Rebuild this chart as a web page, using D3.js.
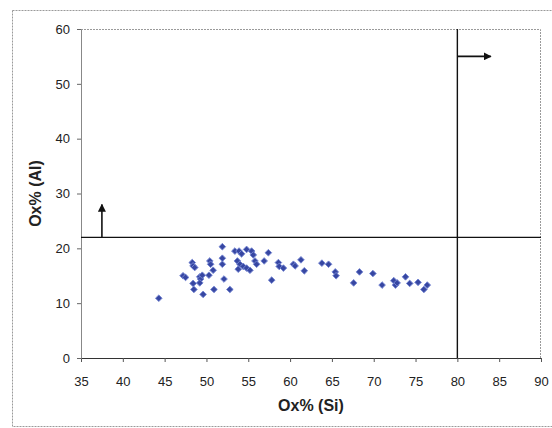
<!DOCTYPE html>
<html>
<head>
<meta charset="utf-8">
<script src="https://cdn.jsdelivr.net/npm/d3@7"></script>
<style>
  body { margin: 0; background: #fff; }
  svg { display: block; font-family: "Liberation Sans", Arial, sans-serif; }
</style>
</head>
<body>
<svg width="552" height="428"></svg>
<script>
// scatter of oxide percentages, Si vs Al

var siValues = [44.3, 47.2, 47.5, 48.3, 48.4, 48.6, 48.4, 48.5, 49.2, 49.3, 49.5, 49.2, 49.6,
    50.3, 50.4, 50.5, 50.8, 50.9, 51.9, 51.9, 51.9, 52.1, 52.8, 53.4, 53.9, 54.2, 54.8, 55.4,
    55.6, 53.7, 54.0, 53.8, 54.4, 54.8, 55.2, 55.8, 56.0, 56.9, 57.4, 57.8, 58.6, 58.7, 59.2,
    60.4, 60.6, 61.3, 61.7, 63.8, 64.6, 65.4, 65.5, 67.6, 68.3, 69.9, 71.0, 72.4, 72.6, 72.8,
    73.8, 74.3, 75.3, 76.0, 76.4]

var alValues = [10.9, 15.0, 14.7, 17.4, 16.8, 16.5, 13.6, 12.5, 14.8, 14.4, 15.1, 13.7, 11.6,
    15.1, 17.7, 17.1, 16.0, 12.5, 20.3, 18.2, 17.1, 14.4, 12.5, 19.5, 19.5, 19.0, 19.8, 19.5,
    18.8, 17.7, 17.1, 16.2, 16.7, 16.4, 16.0, 17.7, 17.1, 17.7, 19.2, 14.2, 17.4, 16.7, 16.4,
    17.1, 16.8, 17.9, 15.9, 17.3, 17.1, 15.7, 15.0, 13.7, 15.7, 15.4, 13.3, 14.1, 13.3, 13.7,
    14.8, 13.6, 13.8, 12.5, 13.3]

var xTicks = [35, 40, 45, 50, 55, 60, 65, 70, 75, 80, 85, 90]
var yTicks = [0, 10, 20, 30, 40, 50, 60]

// threshold lines and arrows
var alLimit = 22
var siLimit = 80
var upArrow = { x: 37.5, from: 22, to: 28 }
var rightArrow = { y: 55, from: 80, to: 84 }

var margin = { left: 81, right: 11, top: 29, bottom: 70 },
    width = 552 - margin.left - margin.right,
    height = 428 - margin.top - margin.bottom;

var svg = d3.select('svg')

// outer chart frame
svg.append('rect')
    .attr('x', 12.5).attr('y', 10.5)
    .attr('width', 560).attr('height', 416)
    .attr('fill', 'none')
    .attr('stroke', '#9a9a9a')
    .attr('stroke-dasharray', '2,1')

var chartGroup = svg.append('g')
    .attr('transform', 'translate(' + margin.left + ', ' + margin.top + ')')

var xScale = d3.scaleLinear().domain([35, 90]).range([0, width])
var yScale = d3.scaleLinear().domain([0, 60]).range([height, 0])

// plot area border (top + right, dotted grey)
chartGroup.append('path')
    .attr('d', 'M0,0.5H' + (width - 0.5) + 'V' + height)
    .attr('fill', 'none')
    .attr('stroke', '#9a9a9a')
    .attr('stroke-dasharray', '2,1')

var xAxis = d3.axisBottom(xScale).tickValues(xTicks).tickSize(4).tickSizeOuter(0)
var yAxis = d3.axisLeft(yScale).tickValues(yTicks).tickSize(4).tickSizeOuter(0)

var gx = chartGroup.append('g')
    .attr('transform', 'translate(0,' + height + ')')
    .call(xAxis)
gx.select('.domain').attr('stroke', '#333').attr('stroke-width', 1.2)
gx.selectAll('.tick line').attr('stroke', '#555')
gx.selectAll('.tick text')
    .attr('dy', '1.6em')
    .attr('font-size', 13)
    .attr('fill', '#222')
    .attr('font-family', '"Liberation Sans", Arial, sans-serif')

var gy = chartGroup.append('g').call(yAxis)
gy.select('.domain').attr('stroke', '#888')
gy.selectAll('.tick line').attr('stroke', '#666')
gy.selectAll('.tick text')
    .attr('x', -11)
    .attr('font-size', 13)
    .attr('fill', '#222')
    .attr('font-family', '"Liberation Sans", Arial, sans-serif')

// threshold lines
chartGroup.append('line')
    .attr('x1', 0).attr('x2', width)
    .attr('y1', yScale(alLimit)).attr('y2', yScale(alLimit))
    .attr('stroke', '#111').attr('stroke-width', 1.4)

chartGroup.append('line')
    .attr('x1', xScale(siLimit)).attr('x2', xScale(siLimit))
    .attr('y1', 0).attr('y2', height)
    .attr('stroke', '#111').attr('stroke-width', 1.4)

svg.append('defs').append('marker')
    .attr('id', 'head')
    .attr('viewBox', '0 0 10 10')
    .attr('refX', 9).attr('refY', 5)
    .attr('markerWidth', 5).attr('markerHeight', 5)
    .attr('orient', 'auto')
    .append('path')
    .attr('d', 'M0,0L10,5L0,10z')
    .attr('fill', '#111')

chartGroup.append('line')
    .attr('x1', xScale(upArrow.x)).attr('x2', xScale(upArrow.x))
    .attr('y1', yScale(upArrow.from)).attr('y2', yScale(upArrow.to))
    .attr('stroke', '#111').attr('stroke-width', 1.6)
    .attr('marker-end', 'url(#head)')

chartGroup.append('line')
    .attr('x1', xScale(rightArrow.from)).attr('x2', xScale(rightArrow.to))
    .attr('y1', yScale(rightArrow.y)).attr('y2', yScale(rightArrow.y))
    .attr('stroke', '#111').attr('stroke-width', 1.6)
    .attr('marker-end', 'url(#head)')

// points as diamonds
var points = siValues.map(function(d, i) { return { si: d, al: alValues[i] } })

chartGroup.selectAll('.pt')
    .data(points)
    .enter()
    .append('path')
    .attr('class', 'pt')
    .attr('d', d3.symbol(d3.symbolSquare, 22))
    .attr('transform', function(d) {
        return 'translate(' + xScale(d.si) + ',' + yScale(d.al) + ') rotate(45)'
    })
    .attr('fill', '#3747a2')
    .attr('stroke', '#7585d2')
    .attr('stroke-width', 0.9)

// axis titles
svg.append('text')
    .attr('x', margin.left + width / 2)
    .attr('y', 411)
    .attr('text-anchor', 'middle')
    .attr('font-size', 16)
    .attr('font-weight', 'bold')
    .attr('fill', '#222')
    .text('Ox% (Si)')

svg.append('text')
    .attr('transform', 'translate(41,' + (margin.top + height / 2) + ') rotate(-90)')
    .attr('text-anchor', 'middle')
    .attr('font-size', 16)
    .attr('font-weight', 'bold')
    .attr('fill', '#222')
    .text('Ox% (Al)')
</script>
</body>
</html>
